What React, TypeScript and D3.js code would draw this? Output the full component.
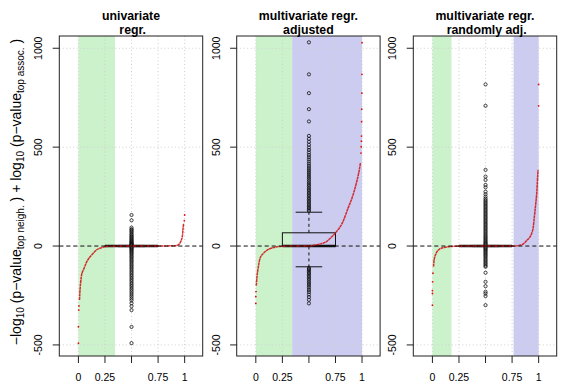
import React from 'react';
import * as d3 from 'd3';

// panel titles (two lines each)
const titles = [
  ['univariate', ' regr.'],
  ['multivariate regr.', 'adjusted'],
  ['multivariate regr.', ' randomly adj.'],
];

const xTicks = [0, 0.25, 0.5, 0.75, 1];
const xTickLabels = ['0', '0.25', '', '0.75', '1'];
const yTicks = [-500, 0, 500, 1000];

// shaded quantile bands: [from, to]
const greenBands = [[0, 0.345], [0, 0.342], [0, 0.18]];
const blueBands = [null, [0.342, 1], [0.764, 1]];

// sorted values against their quantile (red)
const curve1 = [[0.01, -273], [0.016, -215], [0.022, -180], [0.03, -146], [0.047, -121], [0.079, -79], [0.125, -45], [0.17, -20], [0.22, -8], [0.25, -3], [0.35, -0.5], [0.5, 0], [0.9, 1], [0.937, 5], [0.962, 22], [0.978, 48], [0.984, 81], [0.99, 115]];
const curve2 = [[0.004, -200], [0.012, -150], [0.024, -104], [0.04, -62], [0.071, -37], [0.118, -17], [0.165, -8], [0.23, -2], [0.35, 0], [0.51, 1], [0.6, 10], [0.665, 22], [0.71, 44], [0.76, 73], [0.82, 123], [0.868, 191], [0.915, 258], [0.946, 317], [0.971, 376], [0.985, 420]];
const curve3 = [[0.01, -104], [0.016, -70], [0.035, -37], [0.066, -16], [0.12, -6], [0.18, -2], [0.3, 0], [0.76, 0], [0.84, 6], [0.888, 28], [0.935, 65], [0.95, 98], [0.96, 149], [0.973, 216], [0.982, 267], [0.988, 326], [0.994, 385]];

// isolated extreme points at the ends
const dots1 = [[0, -491], [0, -408], [0.003, -324], [0.005, -303], [0.997, 128], [1, 157]];
const dots2 = [[0, -290], [0, -256], [0.002, -230], [0.99, 470], [0.992, 502], [0.994, 530], [0.995, 556], [0.996, 629], [0.997, 692], [0.998, 773], [0.999, 868], [1, 1028]];
const dots3 = [[0, -299], [0, -240], [0, -225], [0.002, -181], [0.005, -137], [1, 709], [1, 817]];

// boxplot stats at x = 0.5
const boxStats = [
  { lo: -3, q1: -1, med: 0, q3: 1, hi: 3 },
  { lo: -105, q1: -2, med: 0, q3: 67, hi: 171 },
  { lo: -3, q1: -1, med: 0, q3: 1, hi: 3 },
];

const outliers1 = [157, 130, 93, 85, 81, 74, 69, 61, 57, 50, 46, 41, 35, 31, 26, 22, 19, 15, 12, 9, 7, 5,
  -5, -8, -12, -16, -21, -26, -32, -37, -43, -50, -56, -63, -70, -77, -84, -92, -99, -107, -114, -122, -130,
  -138, -146, -154, -162, -170, -178, -187, -195, -203, -212, -220, -229, -238, -247, -256, -266, -275,
  -289, -304, -324, -409, -491];
const outliers2 = [178, 185, 192, 199, 206, 214, 221, 229, 236, 244, 252, 260, 268, 276, 284, 292, 301, 309,
  318, 327, 336, 345, 354, 364, 374, 384, 394, 405, 416, 427, 438, 449, 461, 473, 486, 498, 512, 527, 542, 557,
  630, 692, 773, 868, 1030,
  -110, -116, -122, -129, -136, -143, -150, -158, -166, -174, -183, -192, -201, -211, -222, -233, -245, -258, -272, -290];
const outliers3 = [817, 709, 385, 351, 334, 309, 297, 275, 262, 250, 240, 232, 225, 218, 211, 204, 197, 190,
  183, 176, 169, 162, 155, 148, 141, 134, 127, 120, 113, 106, 99, 92, 85, 78, 71, 64, 57, 50, 44, 38, 32, 26,
  20, 15, 10, 6, -6, -10, -15, -20, -26, -32, -38, -44, -50, -57, -64, -71, -78, -85, -92, -99, -105,
  -135, -181, -203, -231, -240, -253, -299];

const curves = [curve1, curve2, curve3];
const dots = [dots1, dots2, dots3];
const outliers = [outliers1, outliers2, outliers3];

const W = 581;
const H = 388;
const panelLefts = [59.3, 236.7, 413.3];
const panelW = 143.4;
const top = 36;
const bottom = 356;
const font = 'Liberation Sans, Arial, Helvetica, sans-serif';

const y = d3.scaleLinear().domain([-556, 1062]).range([bottom, top]);

const Panel = ({ i }: { i: number }) => {
  const left = panelLefts[i];
  const x = d3.scaleLinear().domain([-0.18, 1.17]).range([left, left + panelW]);
  const line = d3.line<number[]>().x(d => x(d[0])).y(d => y(d[1])).curve(d3.curveMonotoneX);
  const b = boxStats[i];
  const cx = x(0.5);
  const g = greenBands[i];
  const bl = blueBands[i];
  return (
    <g>
      <rect x={x(g[0])} width={x(g[1]) - x(g[0])} y={top} height={bottom - top} fill="#ccf2cc" />
      {bl && <rect x={x(bl[0])} width={x(bl[1]) - x(bl[0])} y={top} height={bottom - top} fill="#ccccf0" />}
      {/* grid */}
      {xTicks.map(t => (
        <line key={'gx' + t} x1={x(t)} x2={x(t)} y1={top} y2={bottom} stroke="#cfcfcf" strokeDasharray="1 2.5" />
      ))}
      {yTicks.map(t => (
        <line key={'gy' + t} x1={left} x2={left + panelW} y1={y(t)} y2={y(t)} stroke="#cfcfcf" strokeDasharray="1 2.5" />
      ))}
      {/* boxplot */}
      <g stroke="#111" fill="none">
        <line x1={cx} x2={cx} y1={y(b.q3)} y2={y(b.hi)} strokeDasharray="3 3" />
        <line x1={cx} x2={cx} y1={y(b.q1)} y2={y(b.lo)} strokeDasharray="3 3" />
        <line x1={x(0.375)} x2={x(0.625)} y1={y(b.hi)} y2={y(b.hi)} />
        <line x1={x(0.375)} x2={x(0.625)} y1={y(b.lo)} y2={y(b.lo)} />
        <rect x={x(0.25)} width={x(0.75) - x(0.25)} y={y(b.q3)} height={y(b.q1) - y(b.q3)} />
        <line x1={x(0.25)} x2={x(0.75)} y1={y(b.med)} y2={y(b.med)} strokeWidth={2.5} />
        {outliers[i].map((v, k) => (
          <circle key={k} cx={cx} cy={y(v)} r={1.6} strokeWidth={0.8} />
        ))}
      </g>
      {/* sorted values */}
      <path d={line(curves[i]) || ''} fill="none" stroke="#d01818" strokeOpacity={0.9} strokeWidth={1.5} strokeDasharray="3 0.4" />
      {dots[i].map((d, k) => (
        <circle key={'d' + k} cx={x(d[0])} cy={y(d[1])} r={0.9} fill="#e01010" />
      ))}
      {/* zero reference */}
      <line x1={left} x2={left + panelW} y1={y(0)} y2={y(0)} stroke="#111" strokeDasharray="4 3" />
      {/* frame */}
      <rect x={left} y={top} width={panelW} height={bottom - top} fill="none" stroke="#222" />
      {/* y axis */}
      {yTicks.map(t => (
        <g key={'yt' + t}>
          <line x1={left - 6.6} x2={left} y1={y(t)} y2={y(t)} stroke="#222" />
          <text transform={`translate(${left - 17},${y(t)}) rotate(-90)`} textAnchor="middle" fontSize={10.5} fontFamily={font}>{String(t)}</text>
        </g>
      ))}
      {/* x axis */}
      {xTicks.map((t, k) => (
        <g key={'xt' + t}>
          <line x1={x(t)} x2={x(t)} y1={bottom} y2={bottom + 7} stroke="#222" />
          <text x={x(t)} y={381} textAnchor="middle" fontSize={10.5} fontFamily={font}>{xTickLabels[k]}</text>
        </g>
      ))}
      {/* title */}
      <text x={left + panelW / 2} y={19.5} textAnchor="middle" fontSize={12.3} fontWeight="bold" fontFamily={font} style={{ whiteSpace: 'pre' }}>{titles[i][0]}</text>
      <text x={left + panelW / 2} y={33.5} textAnchor="middle" fontSize={12.3} fontWeight="bold" fontFamily={font} style={{ whiteSpace: 'pre' }}>{titles[i][1]}</text>
    </g>
  );
};

export default function App() {
  return (
    <svg width={W} height={H} style={{ position: 'absolute', left: 0, top: 0, background: '#fff' }}>
      {[0, 1, 2].map(i => <Panel key={i} i={i} />)}
      <text transform={`translate(21,192) rotate(-90)`} textAnchor="middle" fontSize={14} fontFamily={font}>
        −log<tspan fontSize={10} dy={3}>10</tspan><tspan dy={-3}> (p−value</tspan>
        <tspan fontSize={10} dy={3}>top neigh.</tspan><tspan dy={-3}> ) + log</tspan>
        <tspan fontSize={10} dy={3}>10</tspan><tspan dy={-3}> (p−value</tspan>
        <tspan fontSize={10} dy={3}>top assoc.</tspan><tspan dy={-3}> )</tspan>
      </text>
    </svg>
  );
}
